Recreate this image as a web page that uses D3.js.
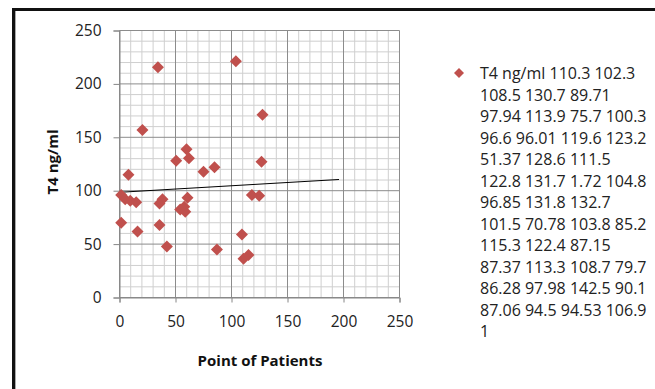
<!DOCTYPE html>
<html>
<head>
<meta charset="utf-8">
<script src="https://cdn.jsdelivr.net/npm/d3@7"></script>
<style>
  html, body { margin: 0; padding: 0; background: #fff; }
  svg { display: block; font-family: 'Open Sans', sans-serif; }
</style>
</head>
<body>
<svg id="chart" width="655" height="389"></svg>
<script>
// Data
const patientX = [34.3, 103.9, 20.5, 59.8, 50.6, 62, 75, 84.8, 8, 127.7, 126.8,
    1.5, 5.1, 9.6, 14.9, 38.4, 35.7, 60.7, 54.2, 57.8, 58.7,
    1.5, 16.1, 35.7, 42.3, 87, 109.3, 110.7, 115.2, 118.2, 124.7];
const t4Values = [215.7, 221.3, 156.9, 138.8, 128.1, 130.3, 117.8, 121.9, 115, 171, 127.2,
    96, 91.9, 90.6, 89.1, 91.9, 88.1, 93.4, 82.5, 85, 80.3,
    70, 61.9, 67.8, 47.8, 45, 59, 36.2, 39.7, 95.9, 95.3];
const trendX = [0, 196];
const trendY = [98.5, 110.5];
const xTicks = [0, 50, 100, 150, 200, 250];
const yTicks = [0, 50, 100, 150, 200, 250];
const legendLines = [
    'T4 ng/ml 110.3 102.3',
    '108.5 130.7 89.71',
    '97.94 113.9 75.7 100.3',
    '96.6 96.01 119.6 123.2',
    '51.37 128.6 111.5',
    '122.8 131.7 1.72 104.8',
    '96.85 131.8 132.7',
    '101.5 70.78 103.8 85.2',
    '115.3 122.4 87.15',
    '87.37 113.3 108.7 79.7',
    '86.28 97.98 142.5 90.1',
    '87.06 94.5 94.53 106.9',
    '1'
];

const svg = d3.select('#chart');
const plot = { left: 119.5, right: 399.5, top: 30.5, bottom: 297.5 };
const markerColor = '#c0504d';

const x = d3.scaleLinear().domain([0, 250]).range([plot.left, plot.right]);
const y = d3.scaleLinear().domain([0, 250]).range([plot.bottom, plot.top]);

// Gridlines as paths: minor every 10, major every 50
const ruleSteps = d3.range(0, 251, 10);
const rulePath = values => values
    .map(v => `M${x(v)},${plot.top}V${plot.bottom}M${plot.left},${y(v)}H${plot.right}`)
    .join('');
svg.append('path')
    .attr('d', rulePath(ruleSteps.filter(v => v % 50 !== 0)))
    .attr('fill', 'none')
    .attr('stroke', '#cfcfcf')
    .attr('stroke-width', 1);
svg.append('path')
    .attr('d', rulePath(ruleSteps.filter(v => v % 50 === 0)))
    .attr('fill', 'none')
    .attr('stroke', '#8c8c8c')
    .attr('stroke-width', 1);

// Outer frame
svg.append('path')
    .attr('d', 'M13.5,389V9.5H655')
    .attr('fill', 'none')
    .attr('stroke', '#111')
    .attr('stroke-width', 3);
svg.append('line')
    .attr('x1', 15.5).attr('y1', 11).attr('x2', 15.5).attr('y2', 389)
    .attr('stroke', '#aaa').attr('stroke-width', 1);

// Axes
const xAxis = svg.append('g')
    .attr('transform', `translate(0,${plot.bottom})`)
    .call(d3.axisBottom(x).tickValues(xTicks).tickSize(5).tickPadding(13));
const yAxis = svg.append('g')
    .attr('transform', `translate(${plot.left},0)`)
    .call(d3.axisLeft(y).tickValues(yTicks).tickSize(6).tickPadding(12));
[xAxis, yAxis].forEach(a => {
    a.select('.domain').attr('stroke', '#868686');
    a.selectAll('.tick line').attr('stroke', '#868686');
    a.selectAll('.tick text')
        .attr('fill', '#222')
        .style('font-family', "'Open Sans', sans-serif")
        .style('font-size', '15.5px');
});

// Axis titles
svg.append('text')
    .attr('x', 260).attr('y', 366)
    .attr('text-anchor', 'middle')
    .attr('font-weight', 'bold')
    .attr('font-size', '15px')
    .attr('fill', '#111')
    .text('Point of Patients');
svg.append('text')
    .attr('transform', 'translate(58,162) rotate(-90)')
    .attr('text-anchor', 'middle')
    .attr('font-weight', 'bold')
    .attr('font-size', '15px')
    .attr('fill', '#111')
    .text('T4 ng/ml');

// Trend line
svg.append('line')
    .attr('x1', x(trendX[0])).attr('y1', y(trendY[0]))
    .attr('x2', x(trendX[1])).attr('y2', y(trendY[1]))
    .attr('stroke', '#000').attr('stroke-width', 1);

// Points
const diamond = d3.symbol().type(d3.symbolSquare).size(72);
svg.append('g').selectAll('path')
    .data(patientX.map((d, i) => [d, t4Values[i]]))
    .join('path')
    .attr('d', diamond)
    .attr('transform', d => `translate(${x(d[0])},${y(d[1])}) rotate(45)`)
    .attr('fill', markerColor);

// Legend
const legend = svg.append('g').attr('transform', 'translate(459,73)');
legend.append('path')
    .attr('d', d3.symbol().type(d3.symbolSquare).size(50))
    .attr('transform', 'rotate(45)')
    .attr('fill', markerColor);
legend.selectAll('text').data(legendLines).join('text')
    .attr('x', 21)
    .attr('y', (d, i) => i * 21.5 + 6)
    .attr('font-size', '16px')
    .attr('fill', '#222')
    .text(d => d);
</script>
</body>
</html>
